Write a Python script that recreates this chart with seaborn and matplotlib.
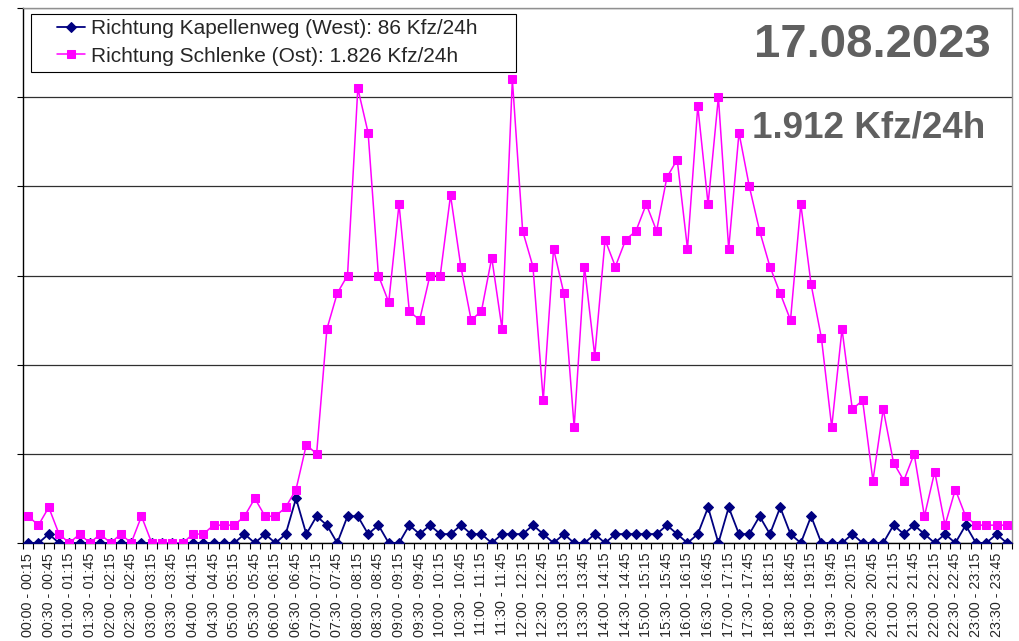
import numpy as np
import pandas as pd
import matplotlib
matplotlib.use("Agg")
import matplotlib.pyplot as plt
from matplotlib.patches import Rectangle
import seaborn as sns

# ---------------- data ----------------
start_times = [f"{h:02d}:{m:02d}" for h in range(24) for m in (0, 15, 30, 45)]
end_times = start_times[1:] + ["24:00"]
slot_labels = [f"{a} - {b}" for a, b in zip(start_times, end_times)]

west_values = [0, 0, 1, 0, 0, 0, 0, 0, 0, 0, 0, 0, 0, 0, 0, 0,
               0, 0, 0, 0, 0, 1, 0, 1, 0, 1, 5, 1, 3, 2, 0, 3,
               3, 1, 2, 0, 0, 2, 1, 2, 1, 1, 2, 1, 1, 0, 1, 1,
               1, 2, 1, 0, 1, 0, 0, 1, 0, 1, 1, 1, 1, 1, 2, 1,
               0, 1, 4, 0, 4, 1, 1, 3, 1, 4, 1, 0, 3, 0, 0, 0,
               1, 0, 0, 0, 2, 1, 2, 1, 0, 1, 0, 2, 0, 0, 1, 0]

east_values = [3, 2, 4, 1, 0, 1, 0, 1, 0, 1, 0, 3, 0, 0, 0, 0,
               1, 1, 2, 2, 2, 3, 5, 3, 3, 4, 6, 11, 10, 24, 28, 30,
               51, 46, 30, 27, 38, 26, 25, 30, 30, 39, 31, 25, 26, 32, 24, 52,
               35, 31, 16, 33, 28, 13, 31, 21, 34, 31, 34, 35, 38, 35, 41, 43,
               33, 49, 38, 50, 33, 46, 40, 35, 31, 28, 25, 38, 29, 23, 13, 24,
               15, 16, 7, 15, 9, 7, 10, 3, 8, 2, 6, 3, 2, 2, 2, 2]

series_names = ["Richtung Kapellenweg (West): 86 Kfz/24h",
                "Richtung Schlenke (Ost): 1.826 Kfz/24h"]
date_text = "17.08.2023"
total_text = "1.912 Kfz/24h"
y_ticks = [0, 10, 20, 30, 40, 50, 60]

# ---------------- style ----------------
sns.set_style("white")
plt.rcParams["font.family"] = ["Liberation Sans", "DejaVu Sans"]

W, H = 1020, 641
fig = plt.figure(figsize=(W / 100, H / 100), dpi=100)
fig.patch.set_facecolor("white")
left, right, top, bottom = 23, 1012, 8, 543
ax = fig.add_axes([left / W, 1 - bottom / H, (right - left) / W, (bottom - top) / H])

pos = np.arange(len(slot_labels))
df = pd.DataFrame({"pos": pos, "slot": slot_labels,
                   "west": west_values, "east": east_values})

sns.lineplot(data=df, x="pos", y="west", ax=ax, color="#000080",
             marker="D", markersize=5.5, markeredgecolor="#000080",
             linewidth=1.3, zorder=3, label=series_names[0])
sns.lineplot(data=df, x="pos", y="east", ax=ax, color="#FF00FF",
             marker="s", markersize=5.8, markeredgecolor="#FF00FF",
             linewidth=1.1, zorder=4, label=series_names[1])

ax.set_xlim(-0.5, len(slot_labels) - 0.5)
ax.set_ylim(y_ticks[0], y_ticks[-1])
ax.set_xlabel("")
ax.set_ylabel("")

# y axis
ax.set_yticks(y_ticks)
ax.set_yticklabels([])
ax.tick_params(axis="y", which="major", direction="out", length=4,
               width=0.8, color="black", left=True)
ax.yaxis.grid(True, color="#303030", linewidth=0.9)
ax.set_axisbelow(True)

# x axis
ax.set_xticks(pos[::2])
ax.set_xticklabels(slot_labels[::2], rotation=90, fontsize=10.4,
                   va="top", ha="center")
ax.set_xticks(np.arange(-0.5, len(slot_labels), 1.0), minor=True)
ax.tick_params(axis="x", which="major", length=0, pad=7, bottom=True)
ax.tick_params(axis="x", which="minor", direction="out", length=4,
               width=0.8, color="black", bottom=True)

for side in ["left", "bottom"]:
    ax.spines[side].set_color("black")
    ax.spines[side].set_linewidth(1.0)
for side in ["top", "right"]:
    ax.spines[side].set_color("#909090")
    ax.spines[side].set_linewidth(1.0)
    ax.spines[side].set_visible(True)

# legend
handles, labels = ax.get_legend_handles_labels()
leg = ax.legend(handles, labels, loc="upper left",
                bbox_to_anchor=(57 / W, 1 - 19 / H),
                bbox_transform=fig.transFigure, frameon=False,
                borderpad=0, borderaxespad=0, handlelength=1.35,
                handletextpad=0.3, labelspacing=0.42, fontsize=15)
fig.add_artist(Rectangle((31 / W, 1 - 72 / H), (516 - 31) / W, (72 - 14) / H,
                         transform=fig.transFigure, fill=False,
                         edgecolor="black", linewidth=0.8, zorder=5))

# annotations
fig.text(991 / W, 1 - 57 / H, date_text, ha="right", va="baseline",
         fontsize=34, fontweight="bold", color="#606060")
fig.text(985 / W, 1 - 137 / H, total_text, ha="right", va="baseline",
         fontsize=26.5, fontweight="bold", color="#606060")

fig.savefig("out.png", dpi=100)
